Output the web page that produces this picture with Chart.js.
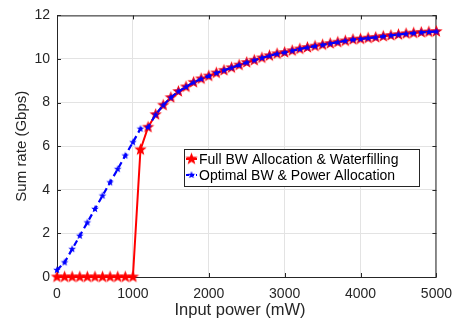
<!DOCTYPE html>
<html>
<head>
<meta charset="utf-8">
<script src="https://cdn.jsdelivr.net/npm/chart.js@4/dist/chart.umd.min.js"></script>
<style>
  html, body { margin: 0; padding: 0; background: #fff; }
  #wrap { width: 461px; height: 324px; }
</style>
</head>
<body>
<div id="wrap"><canvas id="chart"></canvas></div>
<script>
// input power in mW
const powerMW = [0, 100, 200, 300, 400, 500, 600, 700, 800, 900,
  1000, 1100, 1200, 1300, 1400, 1500, 1600, 1700, 1800, 1900,
  2000, 2100, 2200, 2300, 2400, 2500, 2600, 2700, 2800, 2900,
  3000, 3100, 3200, 3300, 3400, 3500, 3600, 3700, 3800, 3900,
  4000, 4100, 4200, 4300, 4400, 4500, 4600, 4700, 4800, 4900, 5000];

// sum rate (Gbps), full BW + waterfilling
const fullBW = [0, 0, 0, 0, 0, 0, 0, 0, 0, 0,
  0, 5.84, 6.87, 7.45, 7.88, 8.23, 8.51, 8.72, 8.93, 9.09,
  9.22, 9.36, 9.48, 9.60, 9.72, 9.84, 9.94, 10.05, 10.15, 10.24,
  10.30, 10.38, 10.46, 10.53, 10.59, 10.65, 10.71, 10.77, 10.83, 10.89,
  10.92, 10.96, 10.99, 11.04, 11.08, 11.12, 11.16, 11.19, 11.22, 11.24, 11.26];

// sum rate (Gbps), optimal BW + power allocation
const optimal = [0.32, 0.67, 1.28, 1.89, 2.50, 3.12, 3.73, 4.34, 4.95, 5.57,
  6.18, 6.80, 6.87, 7.45, 7.88, 8.23, 8.51, 8.72, 8.93, 9.09,
  9.22, 9.36, 9.48, 9.60, 9.72, 9.84, 9.94, 10.05, 10.15, 10.24,
  10.30, 10.38, 10.46, 10.53, 10.59, 10.65, 10.71, 10.77, 10.83, 10.89,
  10.92, 10.96, 10.99, 11.04, 11.08, 11.12, 11.16, 11.19, 11.22, 11.24, 11.26];

const seriesNames = ['Full BW Allocation & Waterfilling', 'Optimal BW & Power Allocation'];
const xTicks = [0, 1000, 2000, 3000, 4000, 5000];
const yTicks = [0, 2, 4, 6, 8, 10, 12];

const axisColor = '#262626';
const font = '"Liberation Sans", Arial, Helvetica, sans-serif';

// filled pentagram used as marker
function makeStar(r, color) {
  const c = document.createElement('canvas');
  const s = Math.ceil(r * 2 + 2);
  c.width = s; c.height = s;
  const g = c.getContext('2d');
  const cx = s / 2, cy = s / 2, inner = r * 0.42;
  g.beginPath();
  for (let i = 0; i < 10; i++) {
    const rr = i % 2 === 0 ? r : inner;
    const a = -Math.PI / 2 + i * Math.PI / 5;
    const px = cx + rr * Math.cos(a), py = cy + rr * Math.sin(a);
    if (i === 0) g.moveTo(px, py); else g.lineTo(px, py);
  }
  g.closePath();
  g.fillStyle = color;
  g.fill();
  return c;
}

const redStar = makeStar(6.5, '#ff0000');
const blueStar = makeStar(4, '#0000ff');

// MATLAB-like box with inward ticks, legend and x label
const boxPlugin = {
  id: 'box',
  beforeDatasetsDraw(chart) {
    const { ctx, chartArea: a, scales: { x, y } } = chart;
    ctx.save();
    ctx.strokeStyle = axisColor;
    ctx.lineWidth = 1;
    ctx.strokeRect(a.left + 0.5, a.top + 0.5, a.right - a.left - 1, a.bottom - a.top);
    ctx.beginPath();
    xTicks.forEach(v => {
      const px = Math.round(x.getPixelForValue(v)) + 0.5;
      ctx.moveTo(px, a.bottom); ctx.lineTo(px, a.bottom - 4);
      ctx.moveTo(px, a.top); ctx.lineTo(px, a.top + 4);
    });
    yTicks.forEach(v => {
      const py = Math.round(y.getPixelForValue(v)) + 0.5;
      ctx.moveTo(a.left, py); ctx.lineTo(a.left + 4, py);
      ctx.moveTo(a.right, py); ctx.lineTo(a.right - 4, py);
    });
    ctx.stroke();
    ctx.restore();
  },
  afterDraw(chart) {
    const { ctx } = chart;
    ctx.save();
    // x label (sits a bit left of centre in the original)
    ctx.font = '16.5px ' + font;
    ctx.fillStyle = axisColor;
    ctx.textAlign = 'center';
    ctx.textBaseline = 'middle';
    ctx.fillText('Input power (mW)', 240, 310);

    // legend
    const bx = 184, by = 149, bw = 235, bh = 37;
    ctx.textAlign = 'left';
    ctx.fillStyle = '#fff';
    ctx.fillRect(bx, by, bw, bh);
    ctx.strokeStyle = axisColor;
    ctx.lineWidth = 1;
    ctx.strokeRect(bx + 0.5, by + 0.5, bw, bh);
    ctx.font = '14px ' + font;
    ctx.fillStyle = '#000';
    const rows = [
      { y: 159, color: '#ff0000', img: redStar, dash: [] },
      { y: 175, color: '#0000ff', img: blueStar, dash: [3, 2] }
    ];
    rows.forEach((r, i) => {
      ctx.strokeStyle = r.color;
      ctx.lineWidth = 2;
      ctx.setLineDash(r.dash);
      ctx.beginPath();
      ctx.moveTo(186, r.y); ctx.lineTo(197, r.y);
      ctx.stroke();
      ctx.setLineDash([]);
      ctx.drawImage(r.img, 191.5 - r.img.width / 2, r.y - r.img.height / 2);
      ctx.fillText(seriesNames[i], 199, r.y + 1);
    });
    ctx.restore();
  }
};

const ctx = document.getElementById('chart').getContext('2d');
new Chart(ctx, {
  type: 'line',
  data: {
    labels: powerMW,
    datasets: [{
      label: seriesNames[0],
      data: powerMW.map((p, i) => ({ x: p, y: fullBW[i] })),
      borderColor: '#ff0000',
      borderWidth: 2,
      pointStyle: redStar,
      pointRadius: 6,
      clip: false,
      order: 2
    }, {
      label: seriesNames[1],
      data: powerMW.map((p, i) => ({ x: p, y: optimal[i] })),
      borderColor: '#0000ff',
      borderWidth: 2.2,
      borderDash: [6, 4],
      pointStyle: blueStar,
      pointRadius: 4,
      clip: false,
      order: 1
    }]
  },
  options: {
    responsive: true,
    maintainAspectRatio: false,
    animation: false,
    layout: { padding: { top: 14, right: 18, left: 0, bottom: 0 } },
    plugins: { legend: { display: false }, tooltip: { enabled: false } },
    scales: {
      x: {
        type: 'linear',
        min: 0, max: 5000,
        afterFit: s => { s.height = 47; },
        afterBuildTicks: s => { s.ticks = xTicks.map(v => ({ value: v })); },
        grid: { color: '#e3e3e3', drawTicks: false },
        border: { display: false },
        ticks: { color: axisColor, font: { family: font, size: 14 }, padding: 9, maxRotation: 0, callback: v => String(v) }
      },
      y: {
        min: 0, max: 12,
        afterFit: s => { s.width = 57; },
        afterBuildTicks: s => { s.ticks = yTicks.map(v => ({ value: v })); },
        grid: { color: '#e3e3e3', drawTicks: false },
        border: { display: false },
        ticks: { color: axisColor, font: { family: font, size: 14 }, padding: 7, callback: v => String(v) },
        title: { display: true, text: 'Sum rate (Gbps)', color: axisColor, font: { family: font, size: 15 }, padding: { top: 13, bottom: 0 } }
      }
    }
  },
  plugins: [boxPlugin]
});
</script>
</body>
</html>
